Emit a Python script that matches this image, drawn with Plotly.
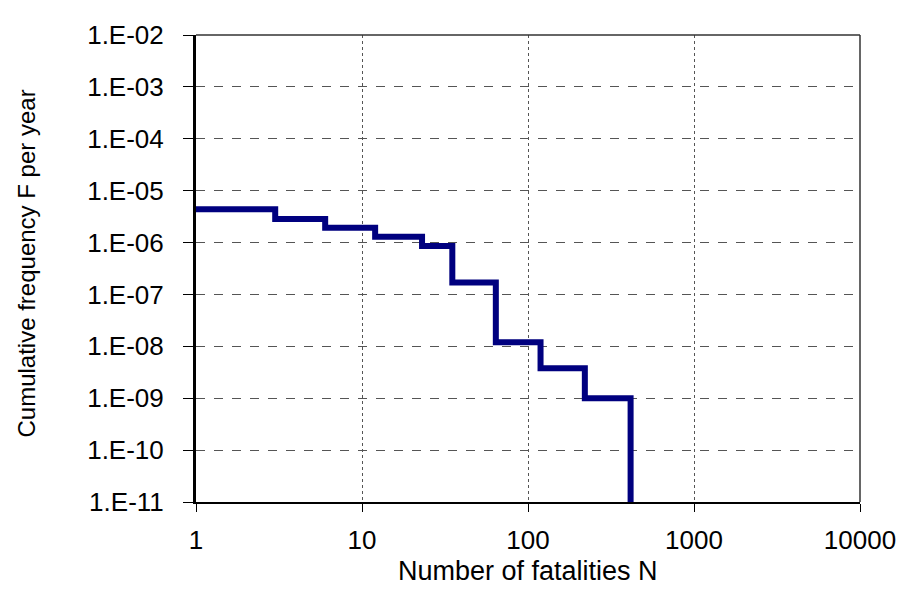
import plotly.graph_objects as go

# Data (F-N curve)
fatalities_N = [1, 3, 6, 12, 23, 35, 64, 119, 220, 415]
cum_freq_F = [4.4e-6, 2.85e-6, 1.93e-6, 1.29e-6, 8.6e-7, 1.7e-7, 1.2e-8, 3.8e-9, 1.0e-9, 1.0e-11]

x_tickvals = [1, 10, 100, 1000, 10000]
x_ticktext = ["1", "10", "100", "1000", "10000"]
y_tickvals = [1e-2, 1e-3, 1e-4, 1e-5, 1e-6, 1e-7, 1e-8, 1e-9, 1e-10, 1e-11]
y_ticktext = ["1.E-02", "1.E-03", "1.E-04", "1.E-05", "1.E-06",
              "1.E-07", "1.E-08", "1.E-09", "1.E-10", "1.E-11"]

fig = go.Figure()
fig.add_trace(go.Scatter(
    x=fatalities_N, y=cum_freq_F, mode="lines", line_shape="hv",
    line=dict(color="#00007f", width=6), showlegend=False,
))

tick_font = dict(family="Liberation Sans, Arial, sans-serif", size=26, color="#000")

fig.update_layout(
    width=903, height=582,
    margin=dict(l=188, r=51, t=15, b=88),
    paper_bgcolor="white", plot_bgcolor="white",
    xaxis=dict(
        type="log", range=[0, 4], tickvals=x_tickvals, ticktext=x_ticktext,
        tickfont=tick_font, ticks="outside", ticklen=8, tickcolor="#000", tickwidth=1,
        ticklabelstandoff=6,
        showline=True, linecolor="#000", linewidth=2,
        showgrid=True, gridcolor="#555", griddash="dot", gridwidth=1,
        zeroline=False,
    ),
    yaxis=dict(
        type="log", range=[-11, -2], tickvals=y_tickvals, ticktext=y_ticktext,
        tickfont=tick_font, ticks="outside", ticklen=10, tickcolor="#000", tickwidth=1,
        ticklabelstandoff=14,
        showline=True, linecolor="#000", linewidth=3,
        showgrid=True, gridcolor="#555", griddash="dash", gridwidth=1,
        zeroline=False,
    ),
    shapes=[
        dict(type="line", xref="paper", yref="paper", x0=0, x1=1, y0=1, y1=1,
             line=dict(color="#333", width=1.5)),
        dict(type="line", xref="paper", yref="paper", x0=1, x1=1, y0=0, y1=1,
             line=dict(color="#333", width=1.5)),
    ],
    annotations=[
        dict(text="Number of fatalities N", xref="paper", yref="paper",
             x=0.5, y=-0.148, xanchor="center", yanchor="middle",
             showarrow=False,
             font=dict(family="Liberation Sans, Arial, sans-serif", size=27, color="#000")),
        dict(text="Cumulative frequency F per year", xref="paper", yref="paper",
             x=-0.255, y=0.51, xanchor="center", yanchor="middle", textangle=-90,
             showarrow=False,
             font=dict(family="Liberation Sans, Arial, sans-serif", size=24, color="#000")),
    ],
)

fig.write_html("out.html")
